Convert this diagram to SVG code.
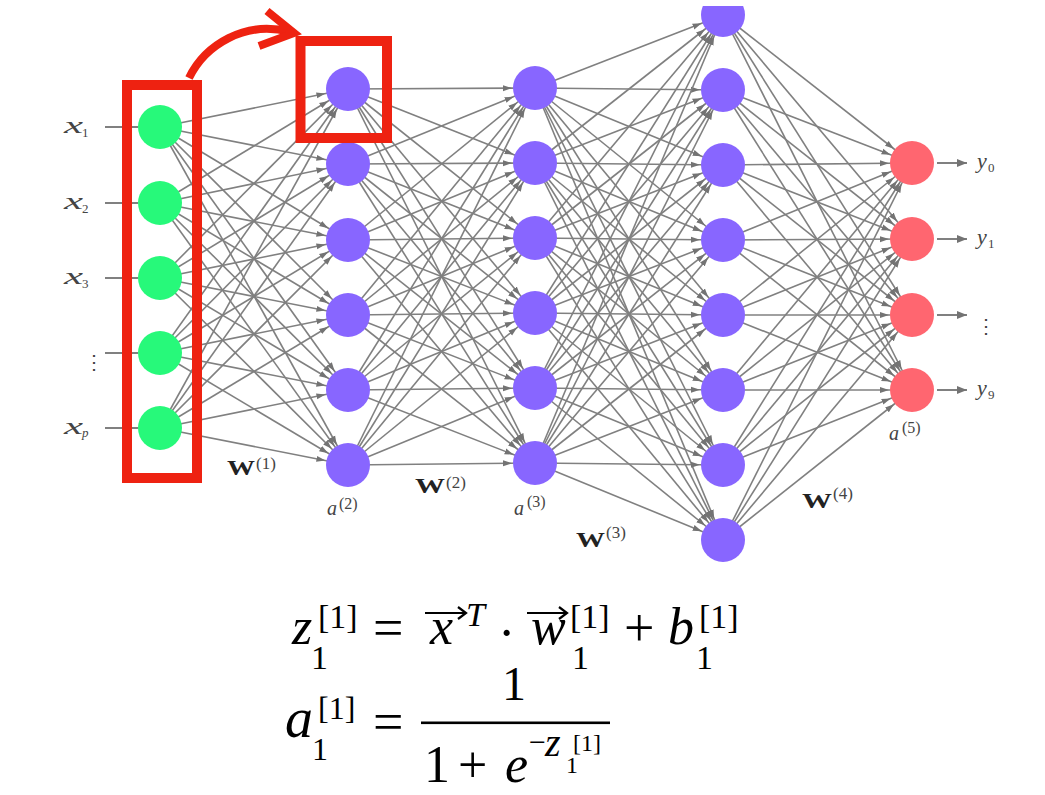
<svg xmlns="http://www.w3.org/2000/svg" width="1045" height="795" viewBox="0 0 1045 795">
<style>
.e{stroke:#808080;stroke-width:1.6;fill:none;marker-end:url(#ah)}
.io{stroke:#808080;stroke-width:2;fill:none}
.g{fill:#27F97A}
.p{fill:#8866FF}
.r{fill:#FF6670}
.t{font-family:"Liberation Serif","DejaVu Serif",serif}
.lab{fill:#444}
.bw{font-weight:bold;fill:#222}
.f{fill:#000}
.i{font-style:italic}
.red{stroke:#EE2211;fill:none}
</style>
<defs>
<marker id="ah" viewBox="0 0 32 8" markerWidth="32" markerHeight="8" refX="32" refY="4" orient="auto" markerUnits="userSpaceOnUse"><path d="M0,1 L9,4 L0,7 z" fill="#737373"/></marker>
<marker id="oh" viewBox="0 0 10 10" markerWidth="10" markerHeight="10" refX="10" refY="5" orient="auto" markerUnits="userSpaceOnUse"><path d="M0,1 L10,5 L0,9 z" fill="#737373"/></marker>
<clipPath id="topclip"><rect x="0" y="6" width="1045" height="789"/></clipPath>
</defs>
<rect width="1045" height="795" fill="#fff"/>
<g id="connectors">
<path class="e" d="M160 127L348 89"/><path class="e" d="M160 127L348 164"/><path class="e" d="M160 127L348 240"/><path class="e" d="M160 127L348 315"/><path class="e" d="M160 127L348 390"/><path class="e" d="M160 127L348 465"/>
<path class="e" d="M160 203L348 89"/><path class="e" d="M160 203L348 164"/><path class="e" d="M160 203L348 240"/><path class="e" d="M160 203L348 315"/><path class="e" d="M160 203L348 390"/><path class="e" d="M160 203L348 465"/>
<path class="e" d="M160 278L348 89"/><path class="e" d="M160 278L348 164"/><path class="e" d="M160 278L348 240"/><path class="e" d="M160 278L348 315"/><path class="e" d="M160 278L348 390"/><path class="e" d="M160 278L348 465"/>
<path class="e" d="M160 353L348 89"/><path class="e" d="M160 353L348 164"/><path class="e" d="M160 353L348 240"/><path class="e" d="M160 353L348 315"/><path class="e" d="M160 353L348 390"/><path class="e" d="M160 353L348 465"/>
<path class="e" d="M160 428L348 89"/><path class="e" d="M160 428L348 164"/><path class="e" d="M160 428L348 240"/><path class="e" d="M160 428L348 315"/><path class="e" d="M160 428L348 390"/><path class="e" d="M160 428L348 465"/>
<path class="e" d="M348 89L535 88"/><path class="e" d="M348 89L535 163"/><path class="e" d="M348 89L535 238"/><path class="e" d="M348 89L535 313"/><path class="e" d="M348 89L535 388"/><path class="e" d="M348 89L535 463"/>
<path class="e" d="M348 164L535 88"/><path class="e" d="M348 164L535 163"/><path class="e" d="M348 164L535 238"/><path class="e" d="M348 164L535 313"/><path class="e" d="M348 164L535 388"/><path class="e" d="M348 164L535 463"/>
<path class="e" d="M348 240L535 88"/><path class="e" d="M348 240L535 163"/><path class="e" d="M348 240L535 238"/><path class="e" d="M348 240L535 313"/><path class="e" d="M348 240L535 388"/><path class="e" d="M348 240L535 463"/>
<path class="e" d="M348 315L535 88"/><path class="e" d="M348 315L535 163"/><path class="e" d="M348 315L535 238"/><path class="e" d="M348 315L535 313"/><path class="e" d="M348 315L535 388"/><path class="e" d="M348 315L535 463"/>
<path class="e" d="M348 390L535 88"/><path class="e" d="M348 390L535 163"/><path class="e" d="M348 390L535 238"/><path class="e" d="M348 390L535 313"/><path class="e" d="M348 390L535 388"/><path class="e" d="M348 390L535 463"/>
<path class="e" d="M348 465L535 88"/><path class="e" d="M348 465L535 163"/><path class="e" d="M348 465L535 238"/><path class="e" d="M348 465L535 313"/><path class="e" d="M348 465L535 388"/><path class="e" d="M348 465L535 463"/>
<path class="e" d="M535 88L723 15"/><path class="e" d="M535 88L723 90"/><path class="e" d="M535 88L723 165"/><path class="e" d="M535 88L723 240"/><path class="e" d="M535 88L723 315"/><path class="e" d="M535 88L723 390"/><path class="e" d="M535 88L723 465"/><path class="e" d="M535 88L723 540"/>
<path class="e" d="M535 163L723 15"/><path class="e" d="M535 163L723 90"/><path class="e" d="M535 163L723 165"/><path class="e" d="M535 163L723 240"/><path class="e" d="M535 163L723 315"/><path class="e" d="M535 163L723 390"/><path class="e" d="M535 163L723 465"/><path class="e" d="M535 163L723 540"/>
<path class="e" d="M535 238L723 15"/><path class="e" d="M535 238L723 90"/><path class="e" d="M535 238L723 165"/><path class="e" d="M535 238L723 240"/><path class="e" d="M535 238L723 315"/><path class="e" d="M535 238L723 390"/><path class="e" d="M535 238L723 465"/><path class="e" d="M535 238L723 540"/>
<path class="e" d="M535 313L723 15"/><path class="e" d="M535 313L723 90"/><path class="e" d="M535 313L723 165"/><path class="e" d="M535 313L723 240"/><path class="e" d="M535 313L723 315"/><path class="e" d="M535 313L723 390"/><path class="e" d="M535 313L723 465"/><path class="e" d="M535 313L723 540"/>
<path class="e" d="M535 388L723 15"/><path class="e" d="M535 388L723 90"/><path class="e" d="M535 388L723 165"/><path class="e" d="M535 388L723 240"/><path class="e" d="M535 388L723 315"/><path class="e" d="M535 388L723 390"/><path class="e" d="M535 388L723 465"/><path class="e" d="M535 388L723 540"/>
<path class="e" d="M535 463L723 15"/><path class="e" d="M535 463L723 90"/><path class="e" d="M535 463L723 165"/><path class="e" d="M535 463L723 240"/><path class="e" d="M535 463L723 315"/><path class="e" d="M535 463L723 390"/><path class="e" d="M535 463L723 465"/><path class="e" d="M535 463L723 540"/>
<path class="e" d="M723 15L912 163"/><path class="e" d="M723 15L912 239"/><path class="e" d="M723 15L912 315"/><path class="e" d="M723 15L912 390"/>
<path class="e" d="M723 90L912 163"/><path class="e" d="M723 90L912 239"/><path class="e" d="M723 90L912 315"/><path class="e" d="M723 90L912 390"/>
<path class="e" d="M723 165L912 163"/><path class="e" d="M723 165L912 239"/><path class="e" d="M723 165L912 315"/><path class="e" d="M723 165L912 390"/>
<path class="e" d="M723 240L912 163"/><path class="e" d="M723 240L912 239"/><path class="e" d="M723 240L912 315"/><path class="e" d="M723 240L912 390"/>
<path class="e" d="M723 315L912 163"/><path class="e" d="M723 315L912 239"/><path class="e" d="M723 315L912 315"/><path class="e" d="M723 315L912 390"/>
<path class="e" d="M723 390L912 163"/><path class="e" d="M723 390L912 239"/><path class="e" d="M723 390L912 315"/><path class="e" d="M723 390L912 390"/>
<path class="e" d="M723 465L912 163"/><path class="e" d="M723 465L912 239"/><path class="e" d="M723 465L912 315"/><path class="e" d="M723 465L912 390"/>
<path class="e" d="M723 540L912 163"/><path class="e" d="M723 540L912 239"/><path class="e" d="M723 540L912 315"/><path class="e" d="M723 540L912 390"/>
<path class="io" d="M105 127H138M105 203H138M105 278H138M105 353H138M105 428H138"/>
<path class="io" d="M937 163H967" marker-end="url(#oh)"/><path class="io" d="M937 239H967" marker-end="url(#oh)"/><path class="io" d="M937 315H967" marker-end="url(#oh)"/><path class="io" d="M937 390H967" marker-end="url(#oh)"/>
</g>
<g id="layer1">
<g id="n1_1"><circle class="g" cx="160" cy="127" r="22"/></g>
<g id="n1_2"><circle class="g" cx="160" cy="203" r="22"/></g>
<g id="n1_3"><circle class="g" cx="160" cy="278" r="22"/></g>
<g id="n1_4"><circle class="g" cx="160" cy="353" r="22"/></g>
<g id="n1_5"><circle class="g" cx="160" cy="428" r="22"/></g>
</g>
<g id="layer2">
<g id="n2_1"><circle class="p" cx="348" cy="89" r="22"/></g>
<g id="n2_2"><circle class="p" cx="348" cy="164" r="22"/></g>
<g id="n2_3"><circle class="p" cx="348" cy="240" r="22"/></g>
<g id="n2_4"><circle class="p" cx="348" cy="315" r="22"/></g>
<g id="n2_5"><circle class="p" cx="348" cy="390" r="22"/></g>
<g id="n2_6"><circle class="p" cx="348" cy="465" r="22"/></g>
</g>
<g id="layer3">
<g id="n3_1"><circle class="p" cx="535" cy="88" r="22"/></g>
<g id="n3_2"><circle class="p" cx="535" cy="163" r="22"/></g>
<g id="n3_3"><circle class="p" cx="535" cy="238" r="22"/></g>
<g id="n3_4"><circle class="p" cx="535" cy="313" r="22"/></g>
<g id="n3_5"><circle class="p" cx="535" cy="388" r="22"/></g>
<g id="n3_6"><circle class="p" cx="535" cy="463" r="22"/></g>
</g>
<g id="layer4">
<g id="n4_1" clip-path="url(#topclip)"><circle class="p" cx="723" cy="15" r="22"/></g>
<g id="n4_2"><circle class="p" cx="723" cy="90" r="22"/></g>
<g id="n4_3"><circle class="p" cx="723" cy="165" r="22"/></g>
<g id="n4_4"><circle class="p" cx="723" cy="240" r="22"/></g>
<g id="n4_5"><circle class="p" cx="723" cy="315" r="22"/></g>
<g id="n4_6"><circle class="p" cx="723" cy="390" r="22"/></g>
<g id="n4_7"><circle class="p" cx="723" cy="465" r="22"/></g>
<g id="n4_8"><circle class="p" cx="723" cy="540" r="22"/></g>
</g>
<g id="layer5">
<g id="n5_1"><circle class="r" cx="912" cy="163" r="22"/></g>
<g id="n5_2"><circle class="r" cx="912" cy="239" r="22"/></g>
<g id="n5_3"><circle class="r" cx="912" cy="315" r="22"/></g>
<g id="n5_4"><circle class="r" cx="912" cy="390" r="22"/></g>
</g>
<g id="input-labels" class="t lab">
<text x="64" y="133" font-size="24" class="i" textLength="19" lengthAdjust="spacingAndGlyphs">x</text><text x="82" y="137" font-size="13">1</text>
<text x="64" y="209" font-size="24" class="i" textLength="19" lengthAdjust="spacingAndGlyphs">x</text><text x="82" y="213" font-size="13">2</text>
<text x="64" y="284" font-size="24" class="i" textLength="19" lengthAdjust="spacingAndGlyphs">x</text><text x="82" y="288" font-size="13">3</text>
<text x="84" y="369" font-size="20">⋮</text>
<text x="64" y="434" font-size="24" class="i" textLength="19" lengthAdjust="spacingAndGlyphs">x</text><text x="82" y="437" font-size="13" class="i">p</text>
</g>
<g id="output-labels" class="t lab">
<text x="977" y="168" font-size="22" class="i">y</text><text x="988" y="172" font-size="13">0</text>
<text x="977" y="244" font-size="22" class="i">y</text><text x="988" y="248" font-size="13">1</text>
<text x="976" y="333" font-size="20">⋮</text>
<text x="977" y="395" font-size="22" class="i">y</text><text x="988" y="399" font-size="13">9</text>
</g>
<g id="layer-labels" class="t">
<text class="bw" x="227" y="475" font-size="22" textLength="28" lengthAdjust="spacingAndGlyphs">W</text><text class="lab" x="256" y="469" font-size="17">(1)</text>
<text class="bw" x="415" y="493" font-size="22" textLength="30" lengthAdjust="spacingAndGlyphs">W</text><text class="lab" x="446" y="488" font-size="17">(2)</text>
<text class="bw" x="576" y="547" font-size="22" textLength="29" lengthAdjust="spacingAndGlyphs">W</text><text class="lab" x="606" y="538" font-size="17">(3)</text>
<text class="bw" x="802" y="508" font-size="22" textLength="30" lengthAdjust="spacingAndGlyphs">W</text><text class="lab" x="833" y="499" font-size="17">(4)</text>
<text class="lab i" x="327" y="515" font-size="20">a</text><text class="lab" x="339" y="509" font-size="16">(2)</text>
<text class="lab i" x="514" y="515" font-size="20">a</text><text class="lab" x="527" y="507" font-size="16">(3)</text>
<text class="lab i" x="889" y="440" font-size="20">a</text><text class="lab" x="902" y="433" font-size="16">(5)</text>
</g>
<g id="highlight">
<rect class="red" x="127" y="85" width="70" height="393" stroke-width="10"/>
<rect class="red" x="300.5" y="41" width="86.5" height="97" stroke-width="10"/>
<path class="red" d="M189 78C205 45 245 20 290 32" stroke-width="8"/>
<path class="red" d="M267 11L294 33L259 46" stroke-width="8"/>
</g>
<g id="formula1" class="t f">
<text x="292" y="644" font-size="52" class="i">z</text>
<text x="318" y="628" font-size="34">[1]</text>
<text x="311" y="669" font-size="34">1</text>
<text x="373" y="646" font-size="54">=</text>
<text x="430" y="644" font-size="52" class="i">x</text>
<path d="M425 613H465M458 607L466 613L458 619" stroke="#000" stroke-width="2.2" fill="none"/>
<text x="466" y="626" font-size="34" class="i">T</text>
<text x="498" y="650" font-size="52">·</text>
<text x="531" y="644" font-size="52" class="i">w</text>
<path d="M527 613H566M559 607L567 613L559 619" stroke="#000" stroke-width="2.2" fill="none"/>
<text x="570" y="628" font-size="34">[1]</text>
<text x="572" y="669" font-size="34">1</text>
<text x="624" y="646" font-size="54">+</text>
<text x="668" y="644" font-size="52" class="i">b</text>
<text x="699" y="628" font-size="34">[1]</text>
<text x="696" y="669" font-size="34">1</text>
</g>
<g id="formula2" class="t f">
<text x="285" y="737" font-size="56" class="i">a</text>
<text x="318" y="719" font-size="32">[1]</text>
<text x="312" y="760" font-size="32">1</text>
<text x="373" y="740" font-size="54">=</text>
<rect x="421" y="721.5" width="189" height="2.6" fill="#000"/>
<text x="502" y="700" font-size="48">1</text>
<text x="424" y="782" font-size="52">1</text>
<text x="458" y="782" font-size="52">+</text>
<text x="505" y="782" font-size="52" class="i">e</text>
<text x="529" y="752" font-size="30">−</text>
<text x="545" y="756" font-size="40" class="i">z</text>
<text x="573" y="751" font-size="24">[1]</text>
<text x="566" y="773" font-size="24">1</text>
</g>
</svg>
